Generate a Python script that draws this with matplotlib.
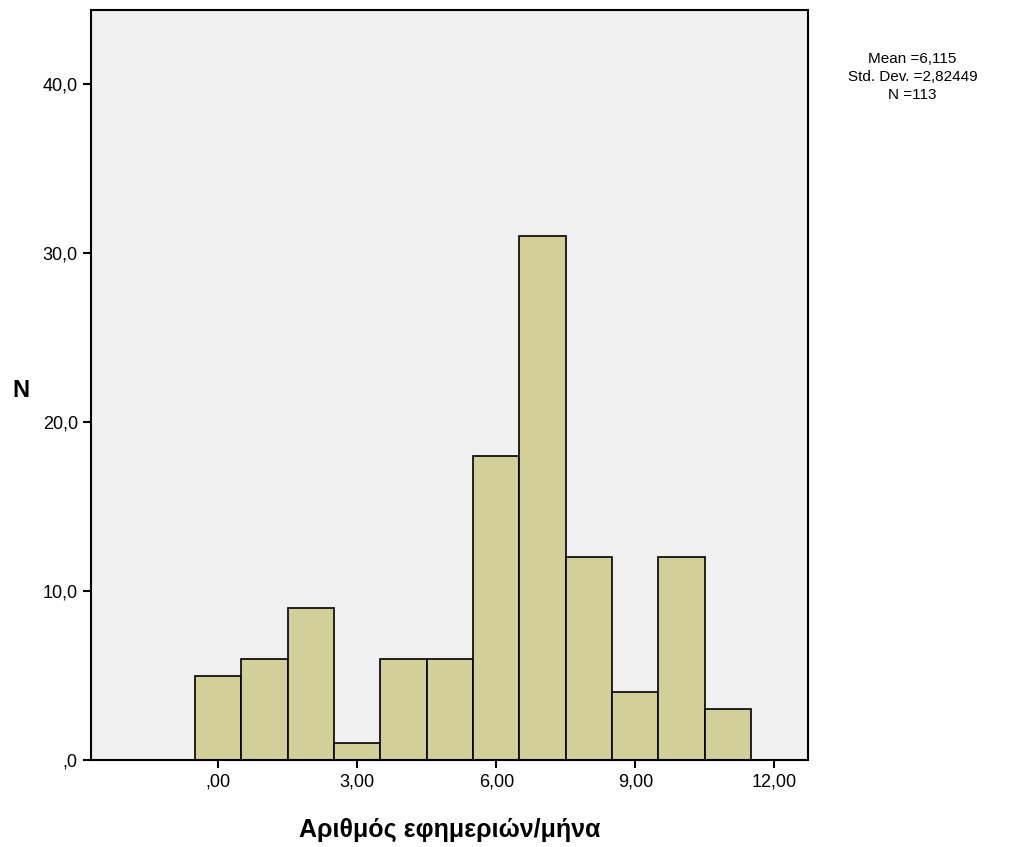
import numpy as np
import matplotlib.pyplot as plt

plt.rcParams['font.family'] = ['Liberation Sans', 'DejaVu Sans']

# bin centres and counts
centres = [0, 1, 2, 3, 4, 5, 6, 7, 8, 9, 10, 11]
counts = [5, 6, 9, 1, 6, 6, 18, 31, 12, 4, 12, 3]
xticks = [0, 3, 6, 9, 12]
xtick_labels = [',00', '3,00', '6,00', '9,00', '12,00']
yticks = [0, 10, 20, 30, 40]
ytick_labels = [',0', '10,0', '20,0', '30,0', '40,0']
stats = 'Mean =6,115\nStd. Dev. =2,82449\nN =113'

fig = plt.figure(figsize=(10.23, 8.47), dpi=100)
ax = fig.add_axes([0.089, 0.1027, 0.701, 0.8855])
ax.set_facecolor('#f0f0f0')

ax.bar(centres, counts, width=1.0, color='#d3cf98', edgecolor='black', linewidth=1.2)

ax.set_xlim(-2.745, 12.73)
ax.set_ylim(0, 44.4)
ax.set_xticks(xticks)
ax.set_xticklabels(xtick_labels, fontsize=13)
ax.set_yticks(yticks)
ax.set_yticklabels(ytick_labels, fontsize=13)
ax.tick_params(direction='out', length=6, width=1.5)
for s in ax.spines.values():
    s.set_linewidth(1.5)

ax.set_xlabel('Αριθμός εφημεριών/μήνα', fontsize=18, fontweight='bold', labelpad=20)
ax.set_ylabel('N', fontsize=17, fontweight='bold', rotation=0, labelpad=0)
ax.yaxis.set_label_coords(-0.098, 0.478)

fig.text(0.892, 0.939, stats, ha='center', va='top', fontsize=11, linespacing=1.4)

fig.savefig('out.png', dpi=100)
